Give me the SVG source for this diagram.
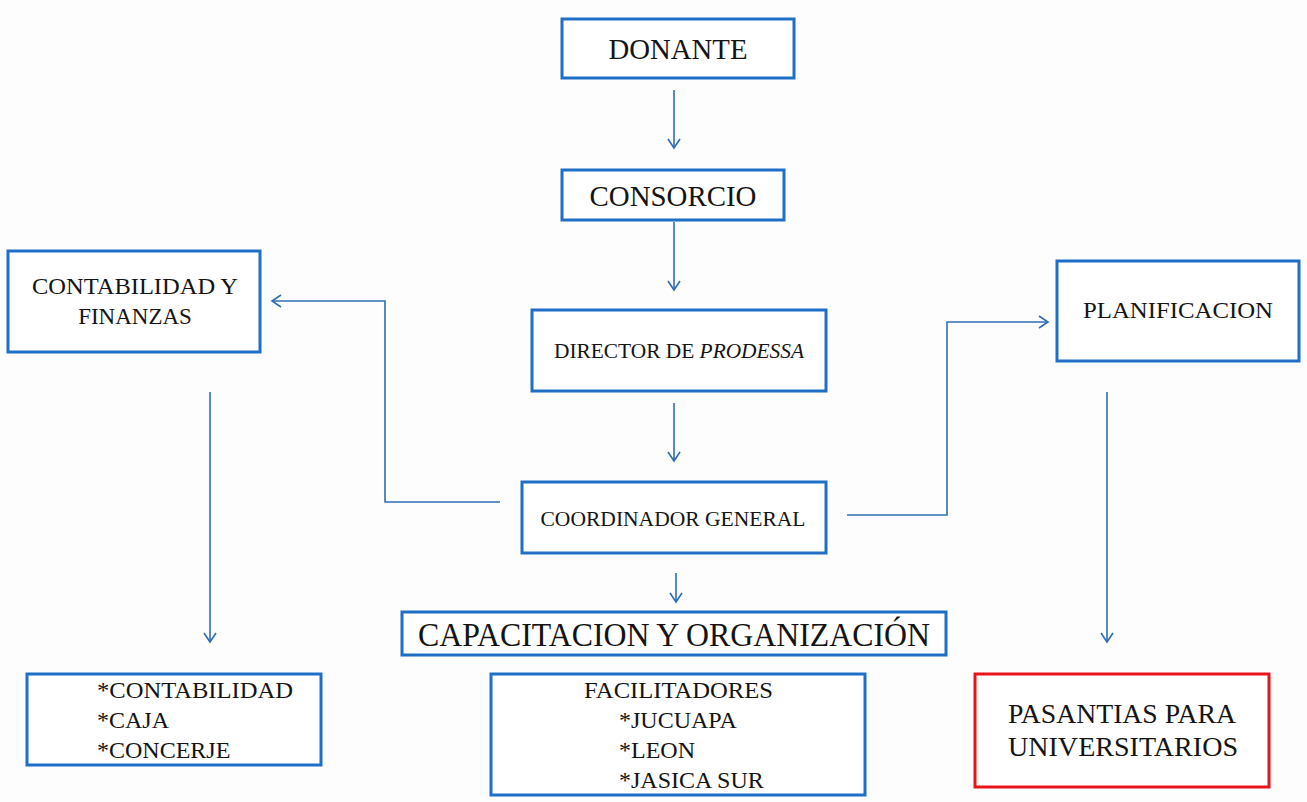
<svg xmlns="http://www.w3.org/2000/svg" width="1307" height="802" viewBox="0 0 1307 802">
<defs>
<marker id="arr" markerWidth="16" markerHeight="16" refX="12" refY="8" orient="auto" markerUnits="userSpaceOnUse">
<polyline points="3,2 12,8 3,14" fill="none" stroke="#2e6db5" stroke-width="1.6"/>
</marker>
<style>
.box{fill:#fff;stroke:#1f6fc8;stroke-width:3}
.red{fill:#fff;stroke:#e8141b;stroke-width:3}
.conn{fill:none;stroke:#2e6db5;stroke-width:1.6}
text{font-family:"Liberation Serif","DejaVu Serif",serif;fill:#141414}
.c{text-anchor:middle}
</style>
</defs>
<rect x="0" y="0" width="1307" height="802" fill="#fdfdfd"/>
<g id="connectors">
<path class="conn" d="M674,90 V148" marker-end="url(#arr)"/>
<path class="conn" d="M674,222 V290" marker-end="url(#arr)"/>
<path class="conn" d="M674,403 V461" marker-end="url(#arr)"/>
<path class="conn" d="M676,573 V602" marker-end="url(#arr)"/>
<path class="conn" d="M500,502 H385 V301 H272" marker-end="url(#arr)"/>
<path class="conn" d="M847,515 H947 V322 H1048" marker-end="url(#arr)"/>
<path class="conn" d="M210,392 V642" marker-end="url(#arr)"/>
<path class="conn" d="M1107,392 V642" marker-end="url(#arr)"/>
</g>
<g id="donante">
<rect class="box" x="562" y="19" width="232" height="59"/>
<text class="c" x="678" y="59" font-size="29" textLength="139" lengthAdjust="spacingAndGlyphs">DONANTE</text>
</g>
<g id="consorcio">
<rect class="box" x="562" y="170" width="222" height="50"/>
<text class="c" x="673" y="206" font-size="29" textLength="167" lengthAdjust="spacingAndGlyphs">CONSORCIO</text>
</g>
<g id="contabilidad-finanzas">
<rect class="box" x="8" y="251" width="252" height="101"/>
<text class="c" x="135" y="294" font-size="23" textLength="206" lengthAdjust="spacingAndGlyphs">CONTABILIDAD Y</text>
<text class="c" x="135" y="324" font-size="23">FINANZAS</text>
</g>
<g id="director">
<rect class="box" x="532" y="310" width="294" height="81"/>
<text class="c" x="679" y="358" font-size="21" textLength="250" lengthAdjust="spacingAndGlyphs">DIRECTOR DE <tspan font-style="italic">PRODESSA</tspan></text>
</g>
<g id="planificacion">
<rect class="box" x="1057" y="261" width="242" height="100"/>
<text class="c" x="1178" y="318" font-size="23" textLength="190" lengthAdjust="spacingAndGlyphs">PLANIFICACION</text>
</g>
<g id="coordinador">
<rect class="box" x="522" y="482" width="304" height="71"/>
<text class="c" x="673" y="526" font-size="21" textLength="265" lengthAdjust="spacingAndGlyphs">COORDINADOR GENERAL</text>
</g>
<g id="capacitacion">
<rect class="box" x="402" y="612" width="544" height="43"/>
<text class="c" x="674" y="646" font-size="33" textLength="512" lengthAdjust="spacingAndGlyphs">CAPACITACION Y ORGANIZACIÓN</text>
</g>
<g id="contabilidad-list">
<rect class="box" x="27" y="674" width="294" height="91"/>
<text x="97" y="698" font-size="24" textLength="196" lengthAdjust="spacingAndGlyphs">*CONTABILIDAD</text>
<text x="97" y="728" font-size="24">*CAJA</text>
<text x="97" y="758" font-size="24">*CONCERJE</text>
</g>
<g id="facilitadores">
<rect class="box" x="491" y="674" width="374" height="121"/>
<text x="584" y="698" font-size="24" textLength="189" lengthAdjust="spacingAndGlyphs">FACILITADORES</text>
<text x="619" y="728" font-size="24">*JUCUAPA</text>
<text x="619" y="758" font-size="24">*LEON</text>
<text x="619" y="788" font-size="24">*JASICA SUR</text>
</g>
<g id="pasantias">
<rect class="red" x="975" y="674" width="294" height="113"/>
<text class="c" x="1122" y="723" font-size="27" textLength="228" lengthAdjust="spacingAndGlyphs">PASANTIAS PARA</text>
<text class="c" x="1123" y="756" font-size="27" textLength="230" lengthAdjust="spacingAndGlyphs">UNIVERSITARIOS</text>
</g>
</svg>
